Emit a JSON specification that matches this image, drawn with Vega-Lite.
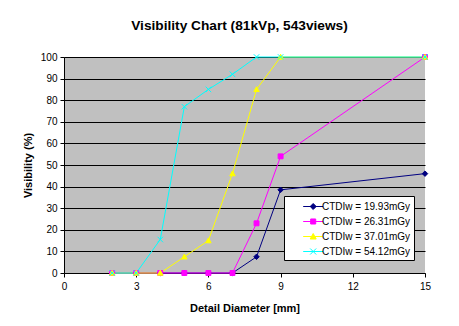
{
  "$schema": "https://vega.github.io/schema/vega-lite/v6.json",
  "width": 361,
  "height": 216,
  "autosize": {"type": "none"},
  "padding": {"left": 64, "top": 57, "right": 34, "bottom": 53},
  "background": "white",
  "title": {"text": "Visibility Chart (81kVp, 543views)", "font": "Liberation Sans", "fontSize": 13.7, "fontWeight": "bold", "color": "black", "anchor": "middle", "frame": "group", "baseline": "bottom", "offset": 5, "dx": -5},
  "data": {"values": [
    {"series": "CTDIw = 19.93mGy", "diameter": 2, "visibility": 0},
    {"series": "CTDIw = 19.93mGy", "diameter": 3, "visibility": 0},
    {"series": "CTDIw = 19.93mGy", "diameter": 4, "visibility": 0},
    {"series": "CTDIw = 19.93mGy", "diameter": 5, "visibility": 0},
    {"series": "CTDIw = 19.93mGy", "diameter": 6, "visibility": 0},
    {"series": "CTDIw = 19.93mGy", "diameter": 7, "visibility": 0},
    {"series": "CTDIw = 19.93mGy", "diameter": 8, "visibility": 7.5},
    {"series": "CTDIw = 19.93mGy", "diameter": 9, "visibility": 38.5},
    {"series": "CTDIw = 19.93mGy", "diameter": 15, "visibility": 46},
    {"series": "CTDIw = 26.31mGy", "diameter": 2, "visibility": 0},
    {"series": "CTDIw = 26.31mGy", "diameter": 3, "visibility": 0},
    {"series": "CTDIw = 26.31mGy", "diameter": 4, "visibility": 0},
    {"series": "CTDIw = 26.31mGy", "diameter": 5, "visibility": 0},
    {"series": "CTDIw = 26.31mGy", "diameter": 6, "visibility": 0},
    {"series": "CTDIw = 26.31mGy", "diameter": 7, "visibility": 0},
    {"series": "CTDIw = 26.31mGy", "diameter": 8, "visibility": 23},
    {"series": "CTDIw = 26.31mGy", "diameter": 9, "visibility": 54},
    {"series": "CTDIw = 26.31mGy", "diameter": 15, "visibility": 100},
    {"series": "CTDIw = 37.01mGy", "diameter": 2, "visibility": 0},
    {"series": "CTDIw = 37.01mGy", "diameter": 3, "visibility": 0},
    {"series": "CTDIw = 37.01mGy", "diameter": 4, "visibility": 0},
    {"series": "CTDIw = 37.01mGy", "diameter": 5, "visibility": 7.5},
    {"series": "CTDIw = 37.01mGy", "diameter": 6, "visibility": 15},
    {"series": "CTDIw = 37.01mGy", "diameter": 7, "visibility": 46},
    {"series": "CTDIw = 37.01mGy", "diameter": 8, "visibility": 85},
    {"series": "CTDIw = 37.01mGy", "diameter": 9, "visibility": 100},
    {"series": "CTDIw = 37.01mGy", "diameter": 15, "visibility": 100},
    {"series": "CTDIw = 54.12mGy", "diameter": 2, "visibility": 0},
    {"series": "CTDIw = 54.12mGy", "diameter": 3, "visibility": 0},
    {"series": "CTDIw = 54.12mGy", "diameter": 4, "visibility": 15.5},
    {"series": "CTDIw = 54.12mGy", "diameter": 5, "visibility": 77},
    {"series": "CTDIw = 54.12mGy", "diameter": 6, "visibility": 85},
    {"series": "CTDIw = 54.12mGy", "diameter": 7, "visibility": 92},
    {"series": "CTDIw = 54.12mGy", "diameter": 8, "visibility": 100},
    {"series": "CTDIw = 54.12mGy", "diameter": 9, "visibility": 100},
    {"series": "CTDIw = 54.12mGy", "diameter": 15, "visibility": 100}
  ]},
  "encoding": {
    "x": {"field": "diameter", "type": "quantitative", "scale": {"domain": [0, 15], "nice": false, "zero": false},
      "axis": {"values": [0, 3, 6, 9, 12, 15], "grid": false, "title": "Detail Diameter [mm]", "titlePadding": 11, "labelPadding": 4}},
    "y": {"field": "visibility", "type": "quantitative", "scale": {"domain": [0, 100], "nice": false},
      "axis": {"values": [0, 10, 20, 30, 40, 50, 60, 70, 80, 90, 100], "grid": true, "gridColor": "black", "gridOpacity": 1, "gridWidth": 1, "title": "Visibility (%)", "titlePadding": 7, "labelPadding": 3}}
  },
  "layer": [
    {
      "mark": {"type": "line", "strokeWidth": 1},
      "encoding": {
        "color": {"field": "series", "type": "nominal",
          "scale": {"domain": ["CTDIw = 19.93mGy", "CTDIw = 26.31mGy", "CTDIw = 37.01mGy", "CTDIw = 54.12mGy"], "range": ["#000080", "#ff00ff", "#ffff00", "#00ffff"]},
          "legend": {
            "orient": "none", "legendX": 220, "legendY": 139, "title": null, "padding": 3,
            "fillColor": "white", "strokeColor": "black",
            "symbolSize": 196, "symbolStrokeWidth": 1,
            "labelFont": "Liberation Sans", "labelFontSize": 10, "labelColor": "black", "labelOffset": 20,
            "rowPadding": 2, "labelExpr": "datum.label + '     '",
            "encode": {"symbols": {"update": {
              "shape": {"signal": "datum.value === 'CTDIw = 19.93mGy' ? 'M1.24,0L4.1,0M2.67,-0.43L3.1,0L2.67,0.43L2.24,0Z' : datum.value === 'CTDIw = 26.31mGy' ? 'M1.24,0L4.1,0M2.31,-0.36L3.03,-0.36L3.03,0.36L2.31,0.36Z' : datum.value === 'CTDIw = 37.01mGy' ? 'M1.24,0L4.1,0M2.67,-0.43L3.1,0.36L2.24,0.36Z' : 'M1.24,0L4.1,0M2.24,-0.43L3.1,0.43M2.24,0.43L3.1,-0.43'"},
              "fill": {"signal": "scale('color', datum.value)"},
              "stroke": {"signal": "scale('color', datum.value)"},
              "strokeWidth": {"value": 1},
              "opacity": {"value": 1}
            }}}
          }}
      }
    },
    {
      "transform": [{"filter": "datum.series === 'CTDIw = 19.93mGy'"}],
      "mark": {"type": "point", "size": 30, "strokeWidth": 1, "opacity": 1, "filled": true, "fill": "#000080", "stroke": "#000080", "shape": "M0,-1L1,0L0,1L-1,0Z"}
    },
    {
      "transform": [{"filter": "datum.series === 'CTDIw = 26.31mGy'"}],
      "mark": {"type": "point", "size": 30, "strokeWidth": 1, "opacity": 1, "filled": true, "fill": "#ff00ff", "stroke": "#ff00ff", "shape": "M-0.9,-0.9L0.9,-0.9L0.9,0.9L-0.9,0.9Z"}
    },
    {
      "transform": [{"filter": "datum.series === 'CTDIw = 37.01mGy'"}],
      "mark": {"type": "point", "size": 30, "strokeWidth": 1, "opacity": 1, "filled": true, "fill": "#ffff00", "stroke": "#ffff00", "shape": "M0,-1L1,0.8L-1,0.8Z"}
    },
    {
      "transform": [{"filter": "datum.series === 'CTDIw = 54.12mGy'"}],
      "mark": {"type": "point", "size": 30, "strokeWidth": 1, "opacity": 1, "filled": true, "fill": "#00ffff", "stroke": "#00ffff", "shape": "M-1,-1L1,1M-1,1L1,-1"}
    }
  ],
  "config": {
    "view": {"fill": "#c0c0c0", "stroke": null},
    "axis": {
      "domainColor": "black", "tickColor": "black", "tickSize": 4, "labelFlush": false, "labelOverlap": false,
      "labelFont": "Liberation Sans", "labelFontSize": 10, "labelColor": "black",
      "titleFont": "Liberation Sans", "titleFontSize": 11, "titleFontWeight": "bold", "titleColor": "black"
    }
  }
}
